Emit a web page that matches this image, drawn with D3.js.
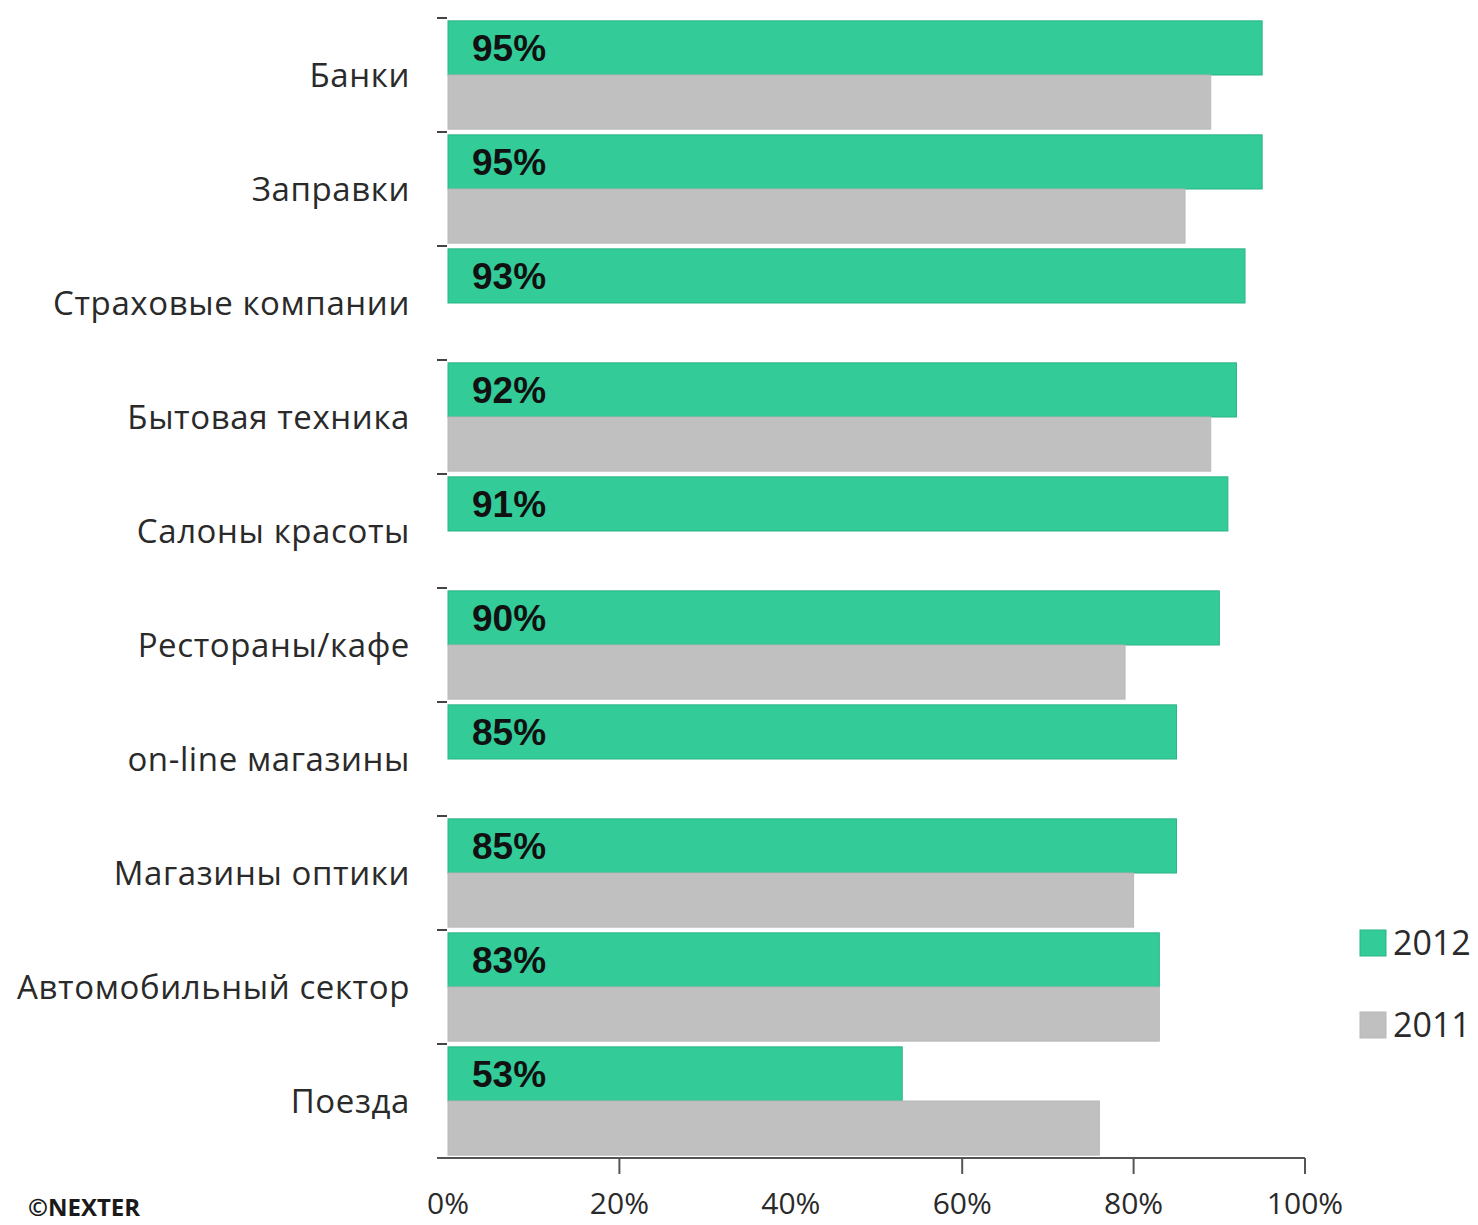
<!DOCTYPE html>
<html>
<head>
<meta charset="utf-8">
<script src="https://cdn.jsdelivr.net/npm/d3@7"></script>
<style>
  html, body { margin: 0; padding: 0; background: #ffffff; }
  svg { display: block; }
</style>
</head>
<body>
<svg id="chart" width="1478" height="1225"></svg>
<script>
// Share of respondents by sector, 2012 vs 2011
const categories = [
  "Банки", "Заправки", "Страховые компании", "Бытовая техника", "Салоны красоты",
  "Рестораны/кафе", "on-line магазины", "Магазины оптики", "Автомобильный сектор", "Поезда"
];
const values2012 = [95, 95, 93, 92, 91, 90, 85, 85, 83, 53];
const values2011 = [89, 86, null, 89, null, 79, null, 80, 83, 76];
const seriesNames = ["2012", "2011"];
const xTickValues = [0, 20, 40, 60, 80, 100];
const xTickMarks = [20, 60, 80, 100];
const sourceLabel = "©NEXTER";

const colors = { "2012": "#33cc99", "2011": "#c0c0c0" };
const strokes = { "2012": "#2bb386", "2011": "#b8b8b8" };

const svg = d3.select("#chart");
const labelFont = "'Open Sans', 'DejaVu Sans', sans-serif";
const valueFont = "'Liberation Sans', Arial, sans-serif";

const x = d3.scaleLinear().domain([0, 100]).range([448, 1305]);
const y0 = d3.scaleBand().domain(categories).range([18, 1158]).paddingInner(0.05).paddingOuter(0.025);
const y1 = d3.scaleBand().domain(seriesNames).range([0, y0.bandwidth()]).padding(0);

const rows = categories.map((c, i) => ({
  category: c,
  bars: [
    { series: "2012", value: values2012[i] },
    { series: "2011", value: values2011[i] }
  ]
}));

// bars
const groups = svg.append("g").selectAll("g.row")
  .data(rows).join("g")
  .attr("class", "row")
  .attr("transform", d => `translate(0,${y0(d.category)})`);

groups.selectAll("rect")
  .data(d => d.bars.filter(b => b.value != null))
  .join("rect")
  .attr("x", x(0))
  .attr("y", d => y1(d.series))
  .attr("width", d => x(d.value) - x(0))
  .attr("height", y1.bandwidth())
  .attr("fill", d => colors[d.series])
  .attr("stroke", d => strokes[d.series])
  .attr("stroke-width", 1);

// value labels on the 2012 bars
groups.append("text")
  .attr("x", x(0) + 24)
  .attr("y", y1("2012") + y1.bandwidth() / 2)
  .attr("dy", "0.36em")
  .attr("font-family", valueFont)
  .attr("font-weight", "bold")
  .attr("font-size", 37)
  .attr("fill", "#111")
  .text((d, i) => values2012[i] + "%");

// category axis: labels and small ticks at band boundaries
const yAxis = svg.append("g");
yAxis.selectAll("text")
  .data(categories).join("text")
  .attr("x", 410)
  .attr("y", d => y0(d) + y0.bandwidth() / 2)
  .attr("dy", "0.36em")
  .attr("text-anchor", "end")
  .attr("font-family", labelFont)
  .attr("font-size", 33)
  .attr("letter-spacing", "0.6px")
  .attr("fill", "#2a2a2a")
  .text(d => d);

yAxis.selectAll("line")
  .data(categories).join("line")
  .attr("x1", 437).attr("x2", 447)
  .attr("y1", d => y0(d) - y0.step() * y0.paddingInner() / 2)
  .attr("y2", d => y0(d) - y0.step() * y0.paddingInner() / 2)
  .attr("stroke", "#444").attr("stroke-width", 2);

// value axis
const axisY = 1158;
const xAxis = svg.append("g").attr("transform", `translate(0,${axisY})`);
xAxis.append("line")
  .attr("x1", 437).attr("x2", x(100))
  .attr("y1", 0).attr("y2", 0)
  .attr("stroke", "#555").attr("stroke-width", 2);
xAxis.selectAll("line.tick")
  .data(xTickMarks).join("line")
  .attr("class", "tick")
  .attr("x1", d => x(d)).attr("x2", d => x(d))
  .attr("y1", 0).attr("y2", 16)
  .attr("stroke", "#555").attr("stroke-width", 2);
xAxis.selectAll("text")
  .data(xTickValues).join("text")
  .attr("x", d => x(d))
  .attr("y", 56)
  .attr("text-anchor", "middle")
  .attr("font-family", labelFont)
  .attr("font-size", 30)
  .attr("fill", "#2a2a2a")
  .text(d => d + "%");

// legend
const legend = svg.append("g").selectAll("g")
  .data(seriesNames).join("g")
  .attr("transform", (d, i) => `translate(1360,${930 + i * 82})`);
legend.append("rect")
  .attr("width", 26).attr("height", 26)
  .attr("fill", d => colors[d])
  .attr("stroke", d => strokes[d]);
legend.append("text")
  .attr("x", 33).attr("y", 13)
  .attr("dy", "0.36em")
  .attr("font-family", labelFont)
  .attr("font-size", 34)
  .attr("fill", "#2a2a2a")
  .text(d => d);

// source
svg.append("text")
  .attr("x", 28).attr("y", 1216)
  .attr("font-family", labelFont)
  .attr("font-weight", "bold")
  .attr("font-size", 24)
  .attr("fill", "#1a1a1a")
  .text(sourceLabel);
</script>
</body>
</html>
